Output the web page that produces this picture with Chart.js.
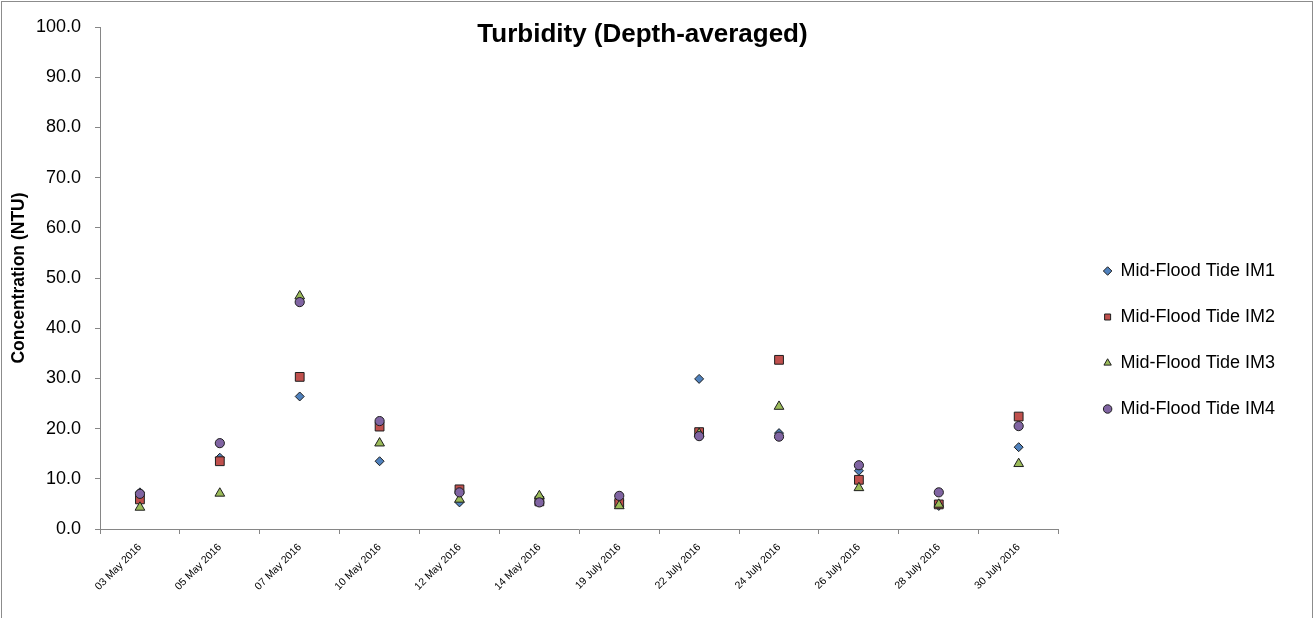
<!DOCTYPE html>
<html><head><meta charset="utf-8">
<script src="https://cdn.jsdelivr.net/npm/chart.js@4/dist/chart.umd.min.js"></script>
<style>
html,body{margin:0;padding:0;background:#fff;}
#wrap{position:relative;width:1314px;height:618px;overflow:hidden;background:#fff;}
#frame{position:absolute;left:1px;top:1px;width:1310px;height:640px;border:1px solid #8c8c8c;pointer-events:none;}
#c{position:absolute;left:0;top:0;}
</style></head><body>
<div id="wrap"><canvas id="c" width="1314" height="618"></canvas><div id="frame"></div></div>
<script>
const categories = ["03 May 2016","05 May 2016","07 May 2016","10 May 2016","12 May 2016","14 May 2016",
  "19 July 2016","22 July 2016","24 July 2016","26 July 2016","28 July 2016","30 July 2016"];
const seriesNames = ["Mid-Flood Tide IM1","Mid-Flood Tide IM2","Mid-Flood Tide IM3","Mid-Flood Tide IM4"];
const im1 = [7.3, 14.2, 26.4, 13.5, 5.3, 6.4, 5.6, 29.9, 19.1, 11.6, 4.6, 16.3];
const im2 = [5.9, 13.5, 30.3, 20.4, 7.9, 5.5, 5.2, 19.3, 33.7, 9.8, 4.9, 22.4];
const im3 = [4.3, 7.1, 46.4, 17.1, 5.9, 6.6, 4.6, 19.0, 24.4, 8.2, 4.9, 13.0];
const im4 = [7.0, 17.1, 45.2, 21.5, 7.3, 5.3, 6.6, 18.5, 18.4, 12.7, 7.3, 20.5];
const yMin = 0, yMax = 100, yStep = 10;
const titleText = "Turbidity (Depth-averaged)";
const yTitle = "Concentration (NTU)";

const colors = ["#4F81BD","#C0504D","#9BBB59","#8064A2"];
const styles = ["rectRot","rect","triangle","circle"];
const radii = [4.5, 6.2, 5.6, 4.6];
const seriesData = [im1, im2, im3, im4];
const axisGray = "#868686";
const FONT = "'Liberation Sans', Arial, sans-serif";

const datasets = seriesData.map((d, i) => ({
  label: seriesNames[i],
  data: d,
  showLine: false,
  order: 4 - i,
  pointStyle: styles[i],
  pointRadius: radii[i],
  pointHoverRadius: radii[i],
  backgroundColor: colors[i],
  borderColor: "#1e1e1e",
  pointBackgroundColor: colors[i],
  pointBorderColor: "#1e1e1e",
  pointBorderWidth: 1,
  borderWidth: 1
}));

new Chart(document.getElementById("c"), {
  type: "line",
  data: { labels: categories, datasets },
  options: {
    responsive: false,
    animation: false,
    devicePixelRatio: 1,
    layout: { padding: { left: 0, right: 29, top: 0, bottom: 0 } },
    plugins: {
      tooltip: { enabled: false },
      title: {
        display: true, text: titleText, color: "#000",
        font: { family: FONT, size: 26, weight: "bold", lineHeight: 1.2 },
        padding: { top: 19, bottom: -23.2 }
      },
      legend: {
        position: "right", align: "center",
        title: { display: true, text: " ", font: { size: 10, lineHeight: 1 }, padding: { top: 52, bottom: 0 } },
        labels: {
          usePointStyle: true, boxWidth: 8, boxHeight: 6, padding: 28, color: "#000",
          font: { family: FONT, size: 18 },
          sort: (a, b) => a.datasetIndex - b.datasetIndex
        }
      }
    },
    scales: {
      x: {
        type: "category", offset: true,
        grid: { display: true, offset: true, drawOnChartArea: false, drawTicks: true, tickLength: 5, color: axisGray },
        border: { display: true, color: axisGray, width: 1 },
        ticks: { minRotation: 45, maxRotation: 45, autoSkip: false, padding: 7, color: "#000",
                 font: { family: FONT, size: 10.5 } },
        afterFit: s => { s.height = 89; }
      },
      y: {
        min: yMin, max: yMax,
        grid: { display: true, drawOnChartArea: false, drawTicks: true, tickLength: 5, color: axisGray },
        border: { display: true, color: axisGray, width: 1 },
        ticks: { stepSize: yStep, padding: 14, color: "#000", font: { family: FONT, size: 18 },
                 callback: v => Number(v).toFixed(1) },
        title: { display: true, text: yTitle, color: "#000",
                 font: { family: FONT, size: 17.5, weight: "bold", lineHeight: 1.2 },
                 padding: { top: 8.5, bottom: 0 } },
        afterFit: s => { s.width = 100; }
      },
      gap: {
        position: "right", display: true,
        grid: { display: false }, border: { display: false }, ticks: { display: false },
        afterFit: s => { s.width = 17; }
      }
    }
  }
});
</script>
</body></html>
